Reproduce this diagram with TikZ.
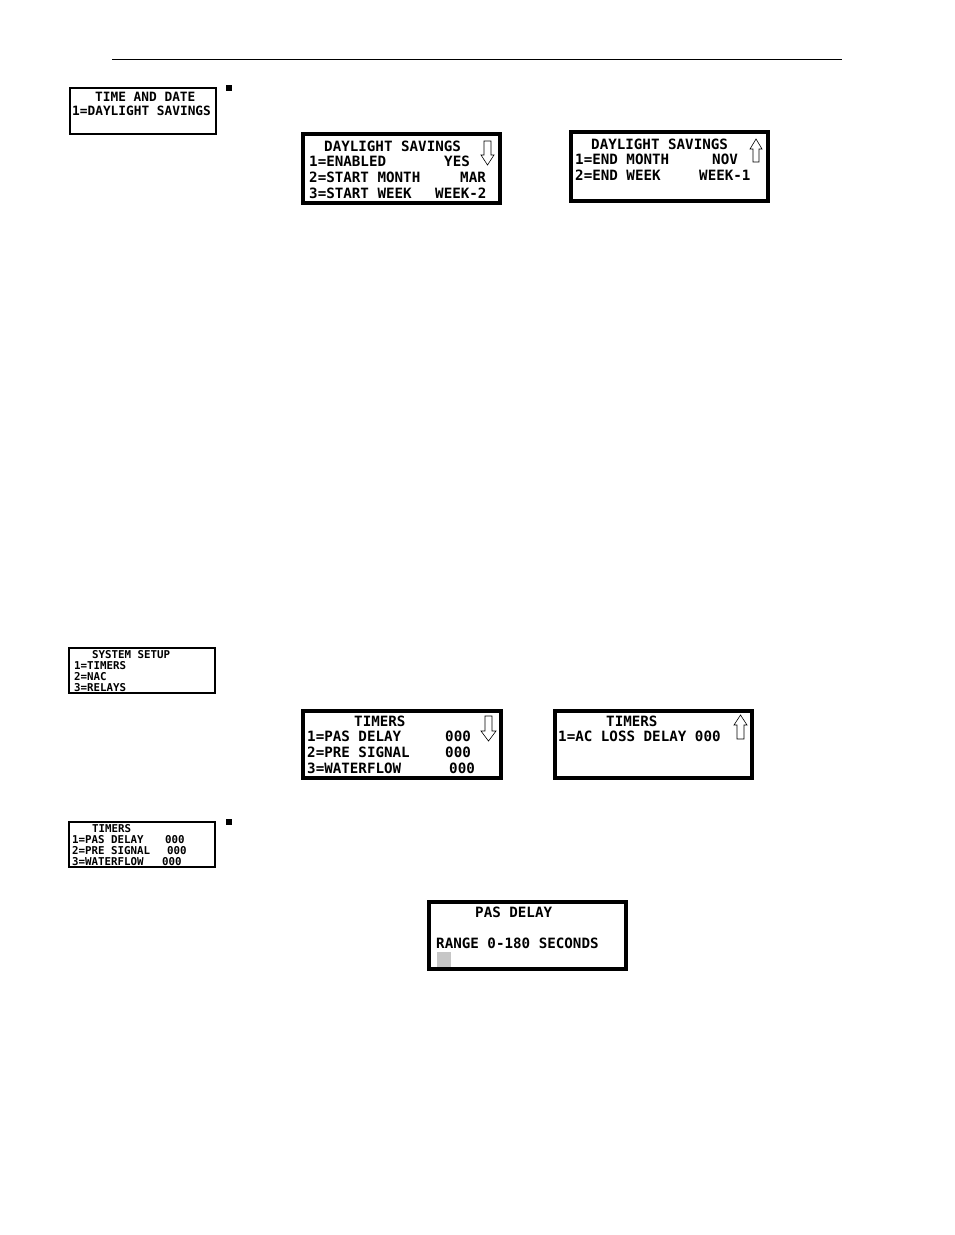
\documentclass[tikz,border=0pt]{standalone}
\usepackage{fontspec}
\newfontfamily\lcd{DejaVu Sans Mono Bold}
\begin{document}
\begin{tikzpicture}[x=1pt,y=-1pt,
 big/.style={anchor=base west,inner sep=0pt,font=\lcd\fontsize{14.2}{14}\selectfont},
 mid/.style={anchor=base west,inner sep=0pt,font=\lcd\fontsize{12.8}{12}\selectfont},
 sml/.style={anchor=base west,inner sep=0pt,font=\lcd\fontsize{10.8}{10}\selectfont},
 thick box/.style={draw,line width=3.5pt},
 thin box/.style={draw,line width=1.3pt},
 arr/.style={draw,line width=0.6pt,fill=white}]
\useasboundingbox (0,0) rectangle (954,1235);
\fill[white] (0,0) rectangle (954,1235);
\draw[line width=0.8pt] (112,59) -- (842,59);
\fill (226,85) rectangle (232,91);
\fill (226,819) rectangle (232,825);
% time and date
\draw[thin box] (70,88) rectangle (216,134);
\node[mid] at (95,101) {TIME AND DATE};
\node[mid] at (72,115) {1=DAYLIGHT SAVINGS};
% DS1
\draw[thick box] (303,134) rectangle (500,203);
\node[big] at (324,151) {DAYLIGHT SAVINGS};
\node[big] at (309,166) {1=ENABLED}; \node[big] at (444,166) {YES};
\node[big] at (309,182) {2=START MONTH}; \node[big] at (460,182) {MAR};
\node[big] at (309,198) {3=START WEEK}; \node[big] at (435,198) {WEEK-2};
\draw[arr] (484,141)--(491,141)--(491,155)--(494,155)--(487.5,165)--(481,155)--(484,155)--cycle;
% DS2
\draw[thick box] (571,132) rectangle (768,201);
\node[big] at (591,149) {DAYLIGHT SAVINGS};
\node[big] at (575,164) {1=END MONTH}; \node[big] at (712,164) {NOV};
\node[big] at (575,180) {2=END WEEK}; \node[big] at (699,180) {WEEK-1};
\draw[arr] (753,162)--(759,162)--(759,149)--(762,149)--(756,139)--(750,149)--(753,149)--cycle;
% system setup
\draw[thin box] (69,648) rectangle (215,693);
\node[sml] at (92,658) {SYSTEM SETUP};
\node[sml] at (74,669) {1=TIMERS};
\node[sml] at (74,680) {2=NAC};
\node[sml] at (74,691) {3=RELAYS};
% timers1
\draw[thick box] (303,711) rectangle (501,778);
\node[big] at (354,726) {TIMERS};
\node[big] at (307,741) {1=PAS DELAY}; \node[big] at (445,741) {000};
\node[big] at (307,757) {2=PRE SIGNAL}; \node[big] at (445,757) {000};
\node[big] at (307,773) {3=WATERFLOW}; \node[big] at (449,773) {000};
\draw[arr] (485,716)--(492,716)--(492,731)--(496,731)--(488.5,741)--(481,731)--(485,731)--cycle;
% timers2
\draw[thick box] (555,711) rectangle (752,778);
\node[big] at (606,726) {TIMERS};
\node[big] at (558,741) {1=AC LOSS DELAY 000};
\draw[arr] (737,739)--(744,739)--(744,725)--(747,725)--(740.5,715)--(734,725)--(737,725)--cycle;
% timers small
\draw[thin box] (69,822) rectangle (215,867);
\node[sml] at (92,832) {TIMERS};
\node[sml] at (72,843) {1=PAS DELAY}; \node[sml] at (165,843) {000};
\node[sml] at (72,854) {2=PRE SIGNAL}; \node[sml] at (167,854) {000};
\node[sml] at (72,865) {3=WATERFLOW}; \node[sml] at (162,865) {000};
% PAS delay
\draw[thick box] (429,902) rectangle (626,969);
\node[big] at (475,917) {PAS DELAY};
\node[big] at (436,948) {RANGE 0-180 SECONDS};
\fill[gray!45] (437,952) rectangle (451,967);
\end{tikzpicture}
\end{document}
